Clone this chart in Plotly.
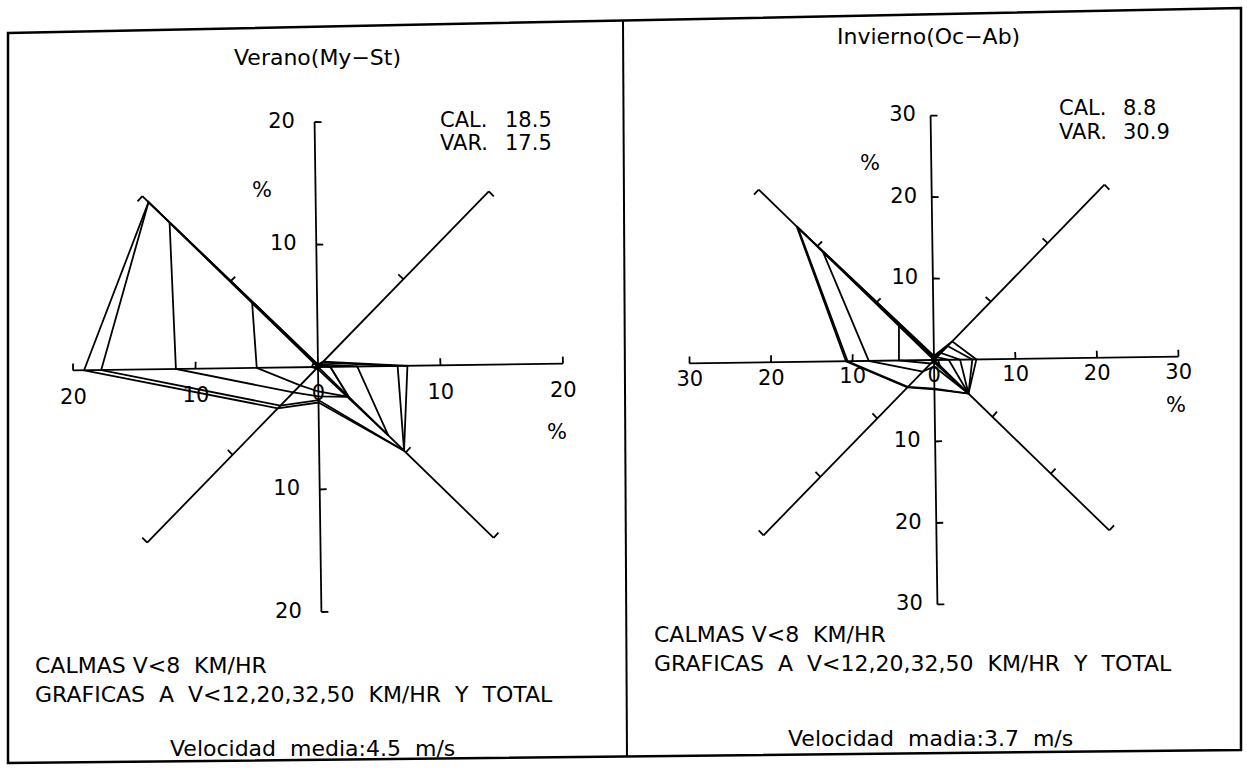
import math
import plotly.graph_objects as go

W, H = 1247, 771

# compass directions, clockwise from north
dirs = [0, 45, 90, 135, 180, 225, 270, 315]  # N NE E SE S SW W NW

# Verano (My-St) -- percent per direction, one list per speed class
ver_total = [0.2, 0.6, 7.3, 9.8, 2.9, 4.7, 19.1, 19.3]
ver_v50 = [0.2, 0.5, 6.5, 9.8, 2.7, 4.4, 17.7, 19.3]
ver_v32 = [0.1, 0.3, 1.0, 3.5, 2.4, 2.9, 11.6, 16.9]
ver_v20 = [0.1, 0.2, 1.0, 3.5, 2.0, 2.1, 5.0, 7.5]
ver_v12 = [0.0, 0.3, 3.2, 8.0, 0.2, 0.2, 0.5, 0.5]

# Invierno (Oc-Ab)
inv_total = [0.5, 3.2, 5.2, 5.9, 3.6, 4.7, 10.8, 23.5]
inv_v50 = [0.4, 2.4, 4.7, 5.9, 3.5, 4.6, 10.6, 23.3]
inv_v32 = [0.3, 1.2, 3.2, 5.9, 0.8, 2.0, 8.0, 19.0]
inv_v20 = [0.2, 0.5, 1.8, 5.9, 0.3, 0.6, 4.3, 6.0]
inv_v12 = [0.1, 0.2, 0.5, 1.0, 0.1, 0.2, 0.3, 0.3]

ver_ticks = [10, 20]
inv_ticks = [10, 20, 30]

cal = [18.5, 8.8]
var = [17.5, 30.9]
vel = ["4.5", "3.7"]

FONT = "DejaVu Sans"
FS = 21
NB = "\u00a0"
TILT = 0.8  # the scan is turned a little

# side of the small tick marks, per axis (+1 clockwise, -1 counter-clockwise)
tick_side = {0: 1, 45: -1, 90: -1, 135: -1, 180: -1, 225: 1, 270: 1, 315: 1}
cap_side = {0: 1, 45: 1, 90: -1, 135: -1, 180: -1, 225: 1, 270: 1, 315: -1}


def px(x):
    return x / W


def py(y):
    return 1 - y / H


def axes_trace(ticks, tick_len, subplot):
    rmax = ticks[-1]
    r, th = [], []
    for d in dirs:
        r += [0, rmax, None]
        th += [d, d, None]
        for t in ticks:
            side = cap_side[d] if t == rmax else tick_side[d]
            dth = math.degrees(tick_len / t) * side
            r += [t, t, None]
            th += [d, d + dth, None]
    return go.Scatterpolar(
        r=r, theta=th, mode="lines", subplot=subplot,
        line=dict(color="black", width=1.8), connectgaps=False,
        hoverinfo="skip", showlegend=False,
    )


def rose_traces(series, subplot):
    out = []
    for vals in series:
        out.append(go.Scatterpolar(
            r=vals + [vals[0]], theta=dirs + [dirs[0]], mode="lines",
            subplot=subplot, line=dict(color="black", width=1.8),
            showlegend=False,
        ))
    return out


def shifted(v, theta, dx, dy, scale):
    # point on an axis moved by (dx, dy) screen pixels, back in polar form
    x = v * math.sin(math.radians(theta)) + dx / scale
    y = v * math.cos(math.radians(theta)) - dy / scale
    return math.hypot(x, y), math.degrees(math.atan2(x, y)) % 360


def label_trace(ticks, scale, dx_vert, dy_horiz, subplot):
    r, th, txt = [], [], []
    for t in ticks:
        for d in (0, 180):
            rr, tt = shifted(t, d, dx_vert, 0, scale)
            r.append(rr); th.append(tt); txt.append(str(t))
        for d in (90, 270):
            rr, tt = shifted(t, d, 0, dy_horiz, scale)
            r.append(rr); th.append(tt); txt.append(str(t))
    rr, tt = shifted(0, 0, 0, dy_horiz, scale)
    r.append(rr); th.append(tt); txt.append("0")
    return go.Scatterpolar(
        r=r, theta=th, text=txt, mode="text", textposition="middle center",
        textfont=dict(family=FONT, size=FS, color="black"), subplot=subplot,
        cliponaxis=False, showlegend=False, hoverinfo="skip",
    )


fig = go.Figure()

# left rose, 12.25 px per percent
fig.add_trace(axes_trace(ver_ticks, 0.57, "polar"))
for tr in rose_traces([ver_total, ver_v50, ver_v32, ver_v20, ver_v12], "polar"):
    fig.add_trace(tr)
fig.add_trace(label_trace(ver_ticks, 12.25, -33, 28, "polar"))

# right rose, 8.15 px per percent
fig.add_trace(axes_trace(inv_ticks, 0.85, "polar2"))
for tr in rose_traces([inv_total, inv_v50, inv_v32, inv_v20, inv_v12], "polar2"):
    fig.add_trace(tr)
fig.add_trace(label_trace(inv_ticks, 8.15, -28, 17, "polar2"))


def polar_layout(cx, cy, half, rmax):
    return dict(
        domain=dict(x=[px(cx - half), px(cx + half)], y=[py(cy + half), py(cy - half)]),
        bgcolor="rgba(0,0,0,0)",
        radialaxis=dict(visible=False, range=[0, rmax]),
        angularaxis=dict(visible=False, direction="clockwise", rotation=90 + TILT),
    )


polar1 = polar_layout(318, 367, 21 * 12.25, 21)
polar2 = polar_layout(934, 360, 31.5 * 8.15, 31.5)


def note(x, y, text, anchor="left", size=FS):
    return dict(
        x=px(x), y=py(y), xref="paper", yref="paper", text=text, showarrow=False,
        xanchor=anchor, yanchor="middle", align="left",
        font=dict(family=FONT, size=size, color="black"),
    )


grafs = (NB * 2).join(["GRAFICAS", "A", "V<12,20,32,50", "KM/HR", "Y", "TOTAL"])
calmas = "CALMAS" + NB + "V<8" + NB * 2 + "KM/HR"
legend_txt = calmas + "<br>" + grafs

annotations = [
    note(317, 58, "Verano(My\u2212St)", "center", 22),
    note(928, 36, "Invierno(Oc\u2212Ab)", "center", 22),
    note(438, 120, "CAL."), note(503, 120, f"{cal[0]}"),
    note(438, 143, "VAR."), note(503, 143, f"{var[0]}"),
    note(1057, 108, "CAL."), note(1121, 108, f"{cal[1]}"),
    note(1057, 132, "VAR."), note(1121, 132, f"{var[1]}"),
    note(262, 190, "%", "center"), note(557, 432, "%", "center"),
    note(870, 163, "%", "center"), note(1176, 405, "%", "center"),
    note(33, 680, legend_txt, size=22),
    note(652, 649, legend_txt, size=22),
    note(312, 748, f"Velocidad{NB*2}media:{vel[0]}{NB*2}m/s", "center", 22),
    note(930, 738, f"Velocidad{NB*2}madia:{vel[1]}{NB*2}m/s", "center", 22),
]

# scanned frame, slightly tilted
frame = (
    f"M {px(8)} {py(33)} L {px(1241)} {py(8)} L {px(1241)} {py(750)} "
    f"L {px(8)} {py(763)} Z"
)
shapes = [
    dict(type="path", path=frame, xref="paper", yref="paper",
         line=dict(color="black", width=2.5)),
    dict(type="line", xref="paper", yref="paper", x0=px(623), y0=py(21),
         x1=px(627), y1=py(757), line=dict(color="black", width=2)),
]

fig.update_layout(
    width=W, height=H,
    margin=dict(l=0, r=0, t=0, b=0),
    paper_bgcolor="white",
    plot_bgcolor="white",
    polar=polar1,
    polar2=polar2,
    annotations=annotations,
    shapes=shapes,
    showlegend=False,
)

fig.write_html(
    "out.html",
    config={"displayModeBar": False},
    post_script="document.body.style.margin='0px';",
)
